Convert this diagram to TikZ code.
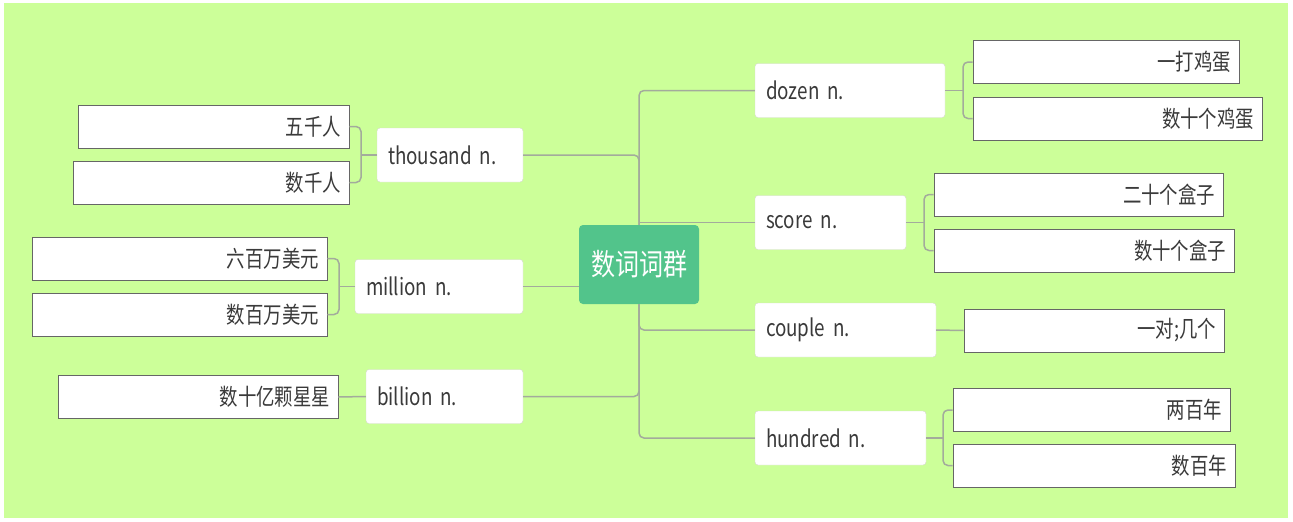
\documentclass[tikz,border=0pt]{standalone}
\usepackage{fontspec}
\setmainfont[FakeStretch=0.8,WordSpace=0.6]{Noto Sans CJK SC}
\usepackage{tikz}
\definecolor{meadow}{HTML}{CCFF99}
\definecolor{hubgreen}{HTML}{52C48B}
\definecolor{twiggray}{HTML}{A3AB9C}
\definecolor{inkgray}{HTML}{3A3A3A}
\definecolor{leafedge}{HTML}{666666}
\definecolor{boxedge}{HTML}{D4D8CC}
\tikzset{%
    hub/.style={fill=hubgreen, rounded corners=4pt, minimum width=120pt, minimum height=79pt,
        inner sep=0pt, text=white, font=\fontsize{30}{34}\selectfont},
    branch/.style={fill=white, draw=boxedge, rounded corners=3pt, minimum height=54pt,
        inner xsep=11pt, inner ysep=0pt, text width=#1, align=left, text=inkgray,
        font=\fontsize{23.5}{27}\selectfont},
    leaf/.style={fill=white, draw=leafedge, line width=0.9pt, minimum height=43pt,
        inner xsep=8pt, inner ysep=0pt, text width=#1, align=right, text=inkgray,
        font=\fontsize{23}{26}\selectfont},
    twig/.style={draw=twiggray, line width=1.5pt, rounded corners=5pt}
}

\begin{document}
\begin{tikzpicture}[x=1pt,y=-1pt]
    \useasboundingbox (0,0) rectangle (1293,522);
    \fill[white] (0,0) rectangle (1293,522);
    \fill[meadow] (4,3) rectangle (1288,518);
    \node[hub] (hub) at (639,264.5) {数词词群};
    \node[branch=124pt] (thousand) at (450,155) {thousand n.};
    \node[branch=146pt] (million) at (439,286.5) {million n.};
    \node[branch=135pt] (billion) at (444.5,396.5) {billion n.};
    \node[branch=168pt] (dozen) at (850,90.5) {dozen n.};
    \node[branch=129pt] (score) at (830.5,222.5) {score n.};
    \node[branch=159pt] (couple) at (845.5,330) {couple n.};
    \node[branch=149pt] (hundred) at (840.5,438) {hundred n.};
    \node[leaf=255pt] (fiveK) at (213.5,126.5) {五千人};
    \node[leaf=260pt] (manyK) at (211,182.5) {数千人};
    \node[leaf=279pt] (sixM) at (179.5,258.5) {六百万美元};
    \node[leaf=279pt] (manyM) at (179.5,314.5) {数百万美元};
    \node[leaf=264pt] (stars) at (198,397) {数十亿颗星星};
    \node[leaf=250pt] (eggs1) at (1106,62) {一打鸡蛋};
    \node[leaf=273pt] (eggs2) at (1117.5,118.5) {数十个鸡蛋};
    \node[leaf=273pt] (box1) at (1078.5,194.5) {二十个盒子};
    \node[leaf=284pt] (box2) at (1084,250.5) {数十个盒子};
    \node[leaf=244pt] (pair) at (1094,330.5) {一对;几个};
    \node[leaf=261pt] (yr1) at (1091.5,410) {两百年};
    \node[leaf=266pt] (yr2) at (1094,465.5) {数百年};
    \coordinate (tj) at (361,155);
    \coordinate (mj) at (339,286.5);
    \coordinate (dj) at (963,90.5);
    \coordinate (sj) at (924,222.5);
    \coordinate (hj) at (943,438);
    \draw[twig] (thousand.east) -| (hub.north);
    \draw[twig] (dozen.west) -| (hub.north);
    \draw[twig] (score.west) -- (score.west -| hub.north);
    \draw[twig] (million.east) -- (million.east -| hub.west);
    \draw[twig] (billion.east) -| (hub.south);
    \draw[twig] (couple.west) -| (hub.south);
    \draw[twig] (hundred.west) -| (hub.south);
    \draw[twig] (thousand.west) -- (tj);
    \draw[twig] (fiveK.east) -| (tj) |- (manyK.east);
    \draw[twig] (million.west) -- (mj);
    \draw[twig] (sixM.east) -| (mj) |- (manyM.east);
    \draw[twig] (billion.west) -- (stars.east);
    \draw[twig] (dozen.east) -- (dj);
    \draw[twig] (eggs1.west) -| (dj) |- (eggs2.west);
    \draw[twig] (score.east) -- (sj);
    \draw[twig] (box1.west) -| (sj) |- (box2.west);
    \draw[twig] (couple.east) -- (pair.west);
    \draw[twig] (hundred.east) -- (hj);
    \draw[twig] (yr1.west) -| (hj) |- (yr2.west);
\end{tikzpicture}
\end{document}
